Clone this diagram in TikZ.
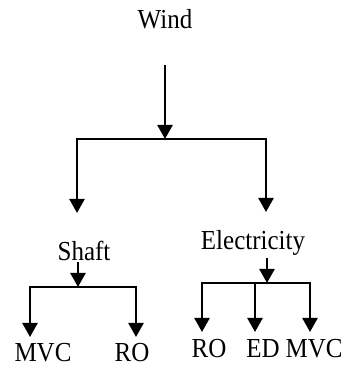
\documentclass[tikz,border=0pt]{standalone}
\usepackage{fontspec}
\setmainfont{Liberation Serif}
\usetikzlibrary{arrows.meta}
\newcommand{\tall}[1]{\scalebox{1}[1.1]{#1}}
\tikzset{
  label/.style={font=\fontsize{25}{27}\selectfont, anchor=base, inner sep=0pt},
  flowarrow/.style={line width=2.4pt, draw=black, -{Triangle[width=15pt,length=14pt]}},
  bar/.style={line width=2.4pt, draw=black, line cap=rect},
}

\begin{document}
\begin{tikzpicture}[x=1pt,y=1pt]
\useasboundingbox (0,0) rectangle (350,369);
% texts
\node[label] (wind) at (165,340) {\tall{Wind}};
\node[label] (shaft) at (84,108) {\tall{Shaft}};
\node[label] (elec) at (253,119) {\tall{Electricity}};
\node[label] (mvcA) at (43,8) {\tall{MVC}};
\node[label] (roA) at (132,8) {\tall{RO}};
\node[label] (roB) at (209,11) {\tall{RO}};
\node[label] (ed) at (263,11) {\tall{ED}};
\node[label] (mvcB) at (314,11) {\tall{MVC}};
% junctions
\coordinate (w0) at (165,304);
\coordinate (wj) at (165,230);
\coordinate (wl) at (77,230);
\coordinate (wr) at (266,230);
\coordinate (shtip) at (77,156);
\coordinate (eltip) at (266,157);
\coordinate (s0) at (78,107);
\coordinate (sj) at (78,82);
\coordinate (sl) at (30,82);
\coordinate (sr) at (136,82);
\coordinate (mvcAtip) at (30,32);
\coordinate (roAtip) at (136,32);
\coordinate (e0) at (267,111);
\coordinate (ej) at (267,86);
\coordinate (el) at (202,86);
\coordinate (em) at (255,86);
\coordinate (er) at (310,86);
\coordinate (roBtip) at (202,37);
\coordinate (edtip) at (255,37);
\coordinate (mvcBtip) at (310,37);
% top level
\draw[flowarrow] (w0) -- (wj);
\draw[bar] (wl) -- (wr);
\draw[flowarrow] (wl) -- (shtip);
\draw[flowarrow] (wr) -- (eltip);
% shaft branch
\draw[flowarrow] (s0) -- (sj);
\draw[bar] (sl) -- (sr);
\draw[flowarrow] (sl) -- (mvcAtip);
\draw[flowarrow] (sr) -- (roAtip);
% electricity branch
\draw[flowarrow] (e0) -- (ej);
\draw[bar] (el) -- (er);
\draw[flowarrow] (el) -- (roBtip);
\draw[flowarrow] (em) -- (edtip);
\draw[flowarrow] (er) -- (mvcBtip);
\end{tikzpicture}
\end{document}
